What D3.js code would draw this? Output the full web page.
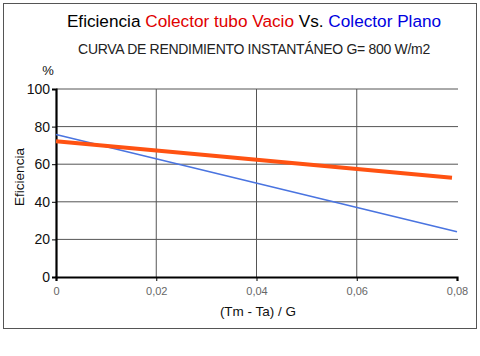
<!DOCTYPE html>
<html><head><meta charset="utf-8">
<script src="https://cdn.jsdelivr.net/npm/d3@7"></script>
<style>body{margin:0;background:#fff;} svg{display:block;}</style>
</head><body>
<svg id="c" width="480" height="356"></svg>
<script>
const xTicks = [0, 0.02, 0.04, 0.06, 0.08];
const xTickLabels = ["0", "0,02", "0,04", "0,06", "0,08"];
const yTicks = [0, 20, 40, 60, 80, 100];
const tuboVacioX = [0, 0.079];
const tuboVacioY = [72.2, 52.8];
const planoX = [0, 0.08];
const planoY = [75.8, 24.1];

const svg = d3.select("#c");
const F = "Arial, 'Liberation Sans', sans-serif";
svg.append("rect").attr("x", 3.5).attr("y", 3.5).attr("width", 473).attr("height", 325)
  .attr("fill", "#fff").attr("stroke", "#555").attr("stroke-width", 1);

const x = d3.scaleLinear().domain([0, 0.08]).range([56, 457]);
const y = d3.scaleLinear().domain([0, 100]).range([277, 89]);

// grid
svg.append("g").selectAll("line").data(yTicks.filter(d => d > 0)).join("line")
  .attr("x1", x(0)).attr("x2", 458).attr("y1", d => y(d)).attr("y2", d => y(d))
  .attr("stroke", "#555").attr("stroke-width", 1);
svg.append("g").selectAll("line").data(xTicks.filter(d => d > 0 && d < 0.08)).join("line")
  .attr("x1", d => x(d)).attr("x2", d => x(d)).attr("y1", y(100)).attr("y2", y(0))
  .attr("stroke", "#555").attr("stroke-width", 1);

// axes
const yAxis = svg.append("g").attr("transform", `translate(${x(0)},0)`)
  .call(d3.axisLeft(y).tickValues(yTicks).tickSize(4).tickPadding(2));
yAxis.select(".domain").attr("stroke", "#000").attr("stroke-width", 2.2);
yAxis.selectAll(".tick line").attr("stroke", "#000");
yAxis.selectAll("text").attr("font-family", F).attr("font-size", 14).attr("fill", "#111");

const xAxis = svg.append("g").attr("transform", `translate(0,${y(0)})`)
  .call(d3.axisBottom(x).tickValues(xTicks).tickFormat((d, i) => xTickLabels[i]).tickSize(4).tickPadding(6));
xAxis.select(".domain").attr("stroke", "#000").attr("stroke-width", 2.2);
xAxis.selectAll(".tick line").attr("stroke", "#000");
xAxis.selectAll("text").attr("font-family", F).attr("font-size", 11).attr("fill", "#666");

// lines
const line = d3.line().x(d => x(d[0])).y(d => y(d[1]));
svg.append("path").datum(planoX.map((v, i) => [v, planoY[i]])).attr("d", line)
  .attr("fill", "none").attr("stroke", "#4a74e0").attr("stroke-width", 1.6);
svg.append("path").datum(tuboVacioX.map((v, i) => [v, tuboVacioY[i]])).attr("d", line)
  .attr("fill", "none").attr("stroke", "#ff5212").attr("stroke-width", 4);

// titles
const t = svg.append("text").attr("x", 254).attr("y", 27).attr("text-anchor", "middle")
  .attr("font-family", F).attr("font-size", 17.2);
t.append("tspan").attr("fill", "#000").text("Eficiencia ");
t.append("tspan").attr("fill", "#e00000").text("Colector tubo Vacio");
t.append("tspan").attr("fill", "#000").text(" Vs. ");
t.append("tspan").attr("fill", "#0000e0").text("Colector Plano");

svg.append("text").attr("x", 254).attr("y", 54).attr("text-anchor", "middle")
  .attr("font-family", F).attr("font-size", 14).attr("fill", "#222").attr("letter-spacing", -0.3)
  .text("CURVA DE RENDIMIENTO INSTANTÁNEO G= 800 W/m2");

svg.append("text").attr("x", 48).attr("y", 75).attr("text-anchor", "middle")
  .attr("font-family", F).attr("font-size", 13).attr("fill", "#111").text("%");

svg.append("text").attr("transform", "translate(24,177) rotate(-90)").attr("text-anchor", "middle")
  .attr("font-family", F).attr("font-size", 13.5).attr("fill", "#111").text("Eficiencia");

svg.append("text").attr("x", 258).attr("y", 316).attr("text-anchor", "middle")
  .attr("font-family", F).attr("font-size", 13.5).attr("fill", "#111").text("(Tm - Ta) / G");
</script>
</body></html>
